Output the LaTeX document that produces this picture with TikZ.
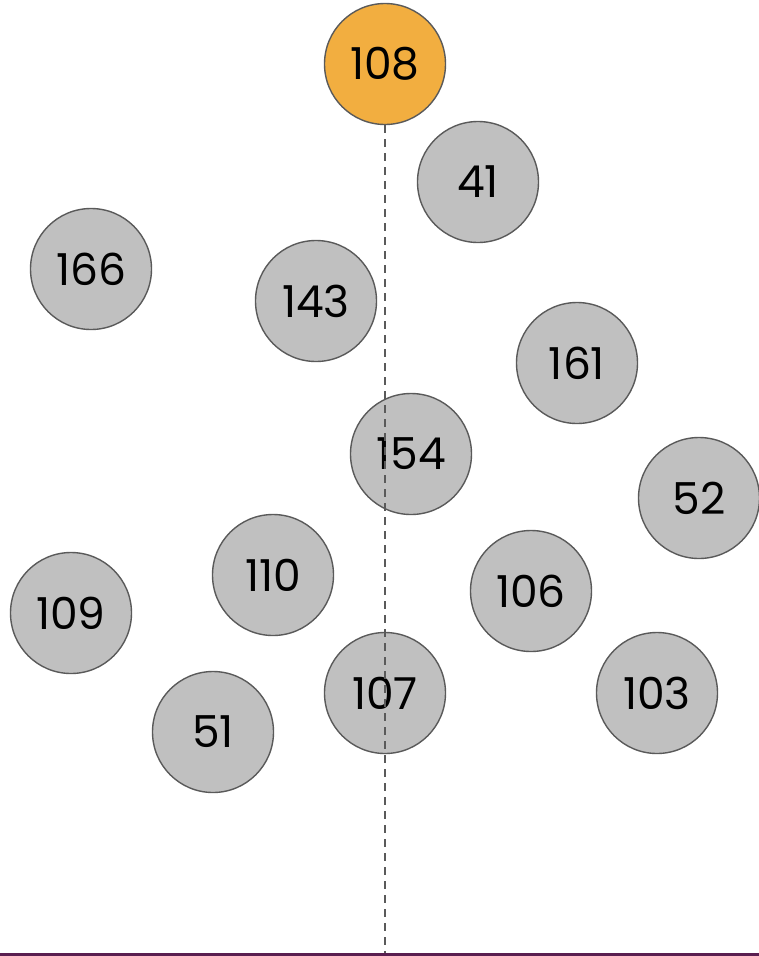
\documentclass[tikz,border=0pt]{standalone}
\usepackage{fontspec}
\setmainfont{Poppins}
\definecolor{nodegray}{HTML}{C0C0C0}
\definecolor{nodeorange}{HTML}{F2AE40}
\definecolor{edgegray}{HTML}{5A5A5A}
\definecolor{basepurple}{HTML}{5A1E50}
\begin{document}
\begin{tikzpicture}[x=1pt,y=-1pt,
  ball/.style={circle,draw=edgegray,line width=1.4pt,fill=nodegray,minimum size=121pt,inner sep=0pt,font=\fontsize{44}{44}\selectfont},
  rootball/.style={ball,fill=nodeorange},
  axis/.style={draw=edgegray,line width=1.6pt,dash pattern=on 7.5pt off 6.5pt}]
\useasboundingbox (0,0) rectangle (759,956);
\node[rootball] (n108) at (385,64) {108};
\node[ball] (n41) at (478,182) {41};
\node[ball] (n166) at (91,269) {166};
\node[ball] (n143) at (316,301) {143};
\node[ball] (n161) at (577,363) {161};
\node[ball] (n154) at (411,454) {154};
\node[ball] (n52) at (699,498) {52};
\node[ball] (n110) at (273,575) {110};
\node[ball] (n106) at (531,591) {106};
\node[ball] (n109) at (71,613) {109};
\node[ball] (n107) at (385,693) {107};
\node[ball] (n103) at (657,693) {103};
\node[ball] (n51) at (213,732) {51};
\coordinate (bottom) at (385,953);
\draw[axis] (n108.south) -- (bottom);
\fill[basepurple] (0,952.5) rectangle (759,956);
\end{tikzpicture}
\end{document}
